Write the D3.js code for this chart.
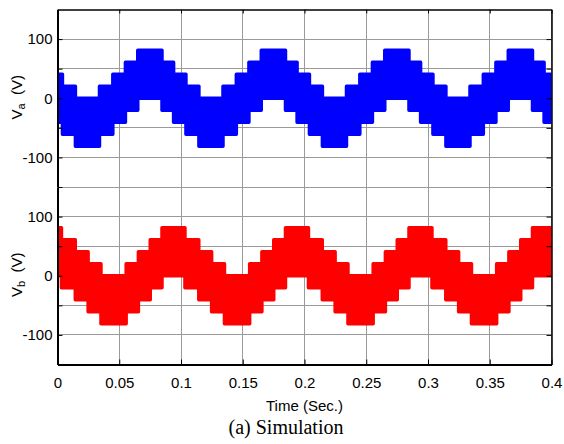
<!DOCTYPE html>
<html>
<head>
<meta charset="utf-8">
<script src="https://cdn.jsdelivr.net/npm/d3@7"></script>
<style>
  body { margin: 0; background: #fff; }
  text { font-family: Arial, "Liberation Sans", sans-serif; }
</style>
</head>
<body>
<div id="wrapper"></div>
<script>
// tick values
const xTicks = [0, 0.05, 0.1, 0.15, 0.2, 0.25, 0.3, 0.35, 0.4]
const yTopGrid = [-150, -100, -50, 0, 50, 100]
const yBotGrid = [-100, -50, 0, 50, 100]
const yLabelled = [-100, 0, 100]

// Va: switching times (s) and the upper / lower level of the band in each interval
const vaTimes = [0,
  0.0040, 0.0145, 0.0340, 0.0448, 0.0550, 0.0650, 0.0846, 0.0940,
  0.1040, 0.1145, 0.1340, 0.1448, 0.1550, 0.1650, 0.1846, 0.1940,
  0.2040, 0.2145, 0.2340, 0.2448, 0.2550, 0.2650, 0.2846, 0.2940,
  0.3040, 0.3145, 0.3340, 0.3448, 0.3550, 0.3650, 0.3846, 0.3940,
  0.4]
const vaHigh = [
  40.5, 20.3, 0, 20.3, 40.5, 61, 81, 61,
  40.5, 20.3, 0, 20.3, 40.5, 61, 81, 61,
  40.5, 20.3, 0, 20.3, 40.5, 61, 81, 61,
  40.5, 20.3, 0, 20.3, 40.5, 61, 81, 61,
  40.5]
const vaLow = [
  -40.5, -61, -81, -61, -40.5, -20.3, 0, -20.3,
  -40.5, -61, -81, -61, -40.5, -20.3, 0, -20.3,
  -40.5, -61, -81, -61, -40.5, -20.3, 0, -20.3,
  -40.5, -61, -81, -61, -40.5, -20.3, 0, -20.3,
  -40.5]

// Vb
const vbTimes = [0,
  0.0032, 0.0144, 0.0248, 0.0352, 0.0556, 0.0655, 0.0751, 0.0846,
  0.1032, 0.1144, 0.1248, 0.1352, 0.1556, 0.1655, 0.1751, 0.1846,
  0.2032, 0.2144, 0.2248, 0.2352, 0.2556, 0.2655, 0.2751, 0.2846,
  0.3032, 0.3144, 0.3248, 0.3352, 0.3556, 0.3655, 0.3751, 0.3846,
  0.4]
const vbHigh = [
  81, 61, 40.5, 20.3, 0, 20.3, 40.5, 61,
  81, 61, 40.5, 20.3, 0, 20.3, 40.5, 61,
  81, 61, 40.5, 20.3, 0, 20.3, 40.5, 61,
  81, 61, 40.5, 20.3, 0, 20.3, 40.5, 61,
  81]
const vbLow = [
  0, -20.3, -40.5, -61, -81, -61, -40.5, -20.3,
  0, -20.3, -40.5, -61, -81, -61, -40.5, -20.3,
  0, -20.3, -40.5, -61, -81, -61, -40.5, -20.3,
  0, -20.3, -40.5, -61, -81, -61, -40.5, -20.3,
  0]

function drawChart() {
  let dimensions = {
    width: 564,
    height: 444,
    margin: { top: 9.5, right: 12.5, bottom: 79.5, left: 57.5 }
  }
  dimensions.boundedWidth = dimensions.width - dimensions.margin.left - dimensions.margin.right
  dimensions.boundedHeight = dimensions.height - dimensions.margin.top - dimensions.margin.bottom
  const panelHeight = dimensions.boundedHeight / 2

  const wrapper = d3.select("#wrapper")
    .append("svg")
      .attr("width", dimensions.width)
      .attr("height", dimensions.height)

  const xScale = d3.scaleLinear()
    .domain([0, 0.4])
    .range([0, dimensions.boundedWidth])

  const yScale = d3.scaleLinear()
    .domain([-150, 150])
    .range([panelHeight, 0])

  wrapper.append("defs").append("clipPath")
      .attr("id", "plot-clip")
    .append("rect")
      .attr("width", dimensions.boundedWidth)
      .attr("height", panelHeight)

  const panels = [
    { top: dimensions.margin.top, times: vaTimes, high: vaHigh, low: vaLow,
      color: "#0000ff", grid: yTopGrid, sub: "a" },
    { top: dimensions.margin.top + panelHeight, times: vbTimes, high: vbHigh, low: vbLow,
      color: "#ff0000", grid: yBotGrid, sub: "b" }
  ]

  const bandLine = d3.line()
    .x(d => xScale(d[0]))
    .y(d => yScale(d[1]))

  panels.forEach((p, idx) => {
    const bounds = wrapper.append("g")
      .attr("transform", `translate(${dimensions.margin.left}, ${p.top})`)

    // grid
    const grid = bounds.append("g")
      .attr("stroke", "#9a9a9a")
      .attr("stroke-width", 1)
      .attr("shape-rendering", "crispEdges")
    grid.selectAll(".vgrid")
      .data(xTicks)
      .join("line")
        .attr("x1", d => xScale(d))
        .attr("x2", d => xScale(d))
        .attr("y1", 0)
        .attr("y2", panelHeight)
    grid.selectAll(".hgrid")
      .data(p.grid)
      .join("line")
        .attr("x1", 0)
        .attr("x2", dimensions.boundedWidth)
        .attr("y1", d => yScale(d))
        .attr("y2", d => yScale(d))

    // the switching band: upper staircase forward, lower staircase back
    const pts = []
    p.high.forEach((v, i) => {
      pts.push([p.times[i], v], [p.times[i + 1], v])
    })
    for (let i = p.low.length - 1; i >= 0; i--) {
      pts.push([p.times[i + 1], p.low[i]], [p.times[i], p.low[i]])
    }
    bounds.append("path")
      .attr("clip-path", "url(#plot-clip)")
      .attr("d", bandLine(pts) + "Z")
      .attr("fill", p.color)
      .attr("stroke", p.color)
      .attr("stroke-width", 3.5)
      .attr("stroke-linejoin", "round")

    // y axis, left
    const yAxis = bounds.append("g")
      .call(d3.axisLeft(yScale)
        .tickValues(idx === 0 ? [-150, -100, -50, 0, 50, 100] : [-100, -50, 0, 50, 100])
        .tickSize(-5)
        .tickSizeOuter(0)
        .tickPadding(5)
        .tickFormat(d => yLabelled.includes(d) ? d : ""))
    yAxis.select(".domain").attr("stroke-width", 2)
    yAxis.selectAll("text")
      .attr("fill", "#000")
      .style("font-size", "15px")
      .style("font-family", "Arial, 'Liberation Sans', sans-serif")

    // y axis, right
    const yAxisRight = bounds.append("g")
      .attr("transform", `translate(${dimensions.boundedWidth}, 0)`)
      .call(d3.axisRight(yScale)
        .tickValues(idx === 0 ? [-150, -100, -50, 0, 50, 100] : [-100, -50, 0, 50, 100])
        .tickSize(-5)
        .tickSizeOuter(0)
        .tickFormat(""))
    yAxisRight.select(".domain").attr("stroke-width", 1.5)

    if (idx === 0) {
      const xAxisTop = bounds.append("g")
        .call(d3.axisTop(xScale)
          .tickValues(xTicks)
          .tickSize(-4)
          .tickSizeOuter(0)
          .tickFormat(""))
      xAxisTop.select(".domain").attr("stroke-width", 1.5)
    } else {
      const xAxis = bounds.append("g")
        .attr("transform", `translate(0, ${panelHeight})`)
        .call(d3.axisBottom(xScale)
          .tickValues(xTicks)
          .tickSize(-5)
          .tickSizeOuter(0)
          .tickPadding(13)
          .tickFormat(d => d))
      xAxis.select(".domain").attr("stroke-width", 2)
      xAxis.selectAll("text")
        .attr("fill", "#000")
        .style("font-size", "15px")
        .style("font-family", "Arial, 'Liberation Sans', sans-serif")
    }

    // y label with subscript
    const yLabel = bounds.append("text")
      .attr("transform", `translate(${22 - dimensions.margin.left}, ${yScale(0) - 1}) rotate(-90)`)
      .attr("text-anchor", "middle")
      .attr("fill", "#000")
      .style("font-size", "15px")
      .attr("xml:space", "preserve")
    yLabel.append("tspan").text("V")
    yLabel.append("tspan")
      .attr("dy", 3)
      .style("font-size", "11px")
      .text(p.sub)
    yLabel.append("tspan")
      .attr("dy", -3)
      .text("  (V)")
  })

  // x axis label
  wrapper.append("text")
    .attr("x", dimensions.margin.left + dimensions.boundedWidth / 2)
    .attr("y", 411)
    .attr("text-anchor", "middle")
    .style("font-size", "15px")
    .text("Time (Sec.)")

  // caption
  wrapper.append("text")
    .attr("x", 286)
    .attr("y", 434)
    .attr("text-anchor", "middle")
    .style("font-family", "'Liberation Serif', 'Times New Roman', serif")
    .style("font-size", "20px")
    .text("(a) Simulation")
}

drawChart()
</script>
</body>
</html>
